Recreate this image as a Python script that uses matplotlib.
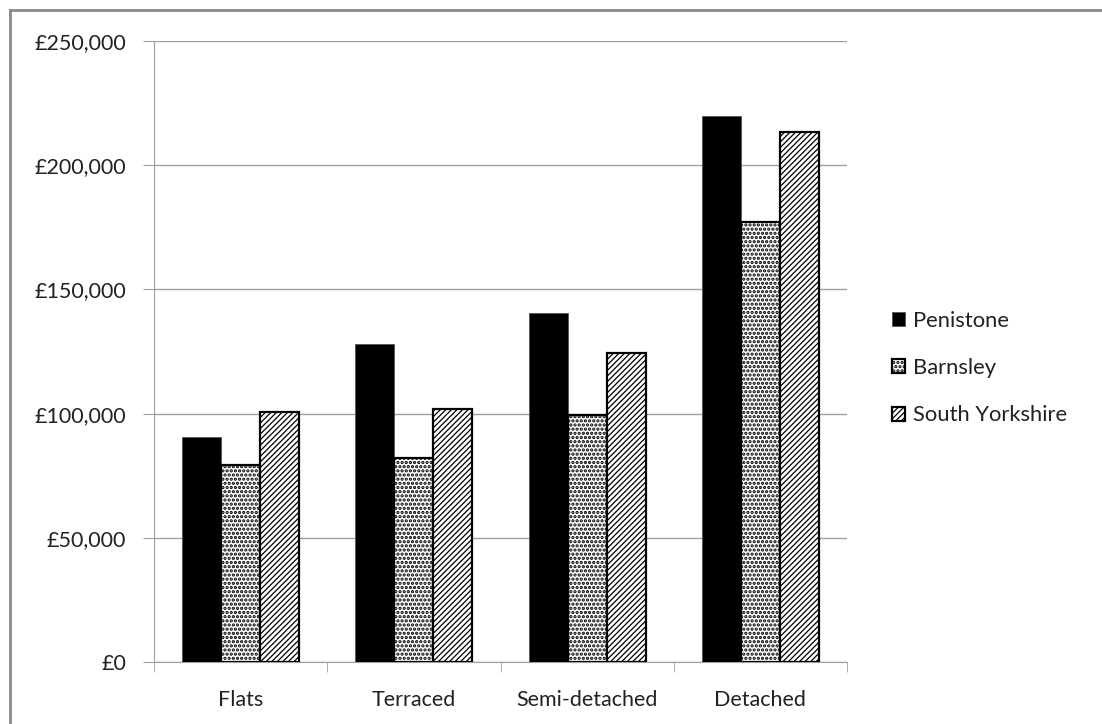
import matplotlib
matplotlib.use("Agg")
import matplotlib.pyplot as plt
import numpy as np
from matplotlib.ticker import FuncFormatter
from matplotlib.lines import Line2D

categories = ["Flats", "Terraced", "Semi-detached", "Detached"]
series_names = ["Penistone", "Barnsley", "South Yorkshire"]
penistone = [90700, 128000, 140500, 220000]
barnsley = [79500, 82000, 99500, 177000]
south_yorkshire = [100600, 102000, 124500, 213500]
y_ticks = [0, 50000, 100000, 150000, 200000, 250000]

plt.rcParams['font.family'] = ['Lato', 'DejaVu Sans']
plt.rcParams['hatch.linewidth'] = 0.9
plt.rcParams['text.color'] = '#222222'

fig = plt.figure(figsize=(11.02, 7.24), dpi=100)
ax = fig.add_axes([154/1102, 1-662/724, (847-154)/1102, (662-41)/724])

x = np.arange(len(categories))
w = 0.225
ax.bar(x - w, penistone, w, color='black', edgecolor='#555555', linewidth=0.6, label=series_names[0], zorder=3)
b2 = ax.bar(x, barnsley, w, color='white', edgecolor='black', hatch='....', linewidth=1.6, label=series_names[1], zorder=3)
ax.bar(x + w, south_yorkshire, w, color='white', edgecolor='black', hatch='//////', linewidth=1.6, label=series_names[2], zorder=3)
for p in b2:
    try:
        p.set_hatch_linewidth(1.6)
    except Exception:
        pass

ax.set_xlim(-0.5, len(categories) - 0.5)
ax.set_ylim(0, 250000)
ax.set_yticks(y_ticks)
ax.yaxis.set_major_formatter(FuncFormatter(lambda v, p: "£{:,.0f}".format(v)))
ax.set_xticks(x)
ax.set_xticklabels(categories)
ax.set_xticks(np.arange(len(categories) + 1) - 0.5, minor=True)

ax.grid(axis='y', color='#a0a0a0', linewidth=1.0, zorder=0)
for s in ['top', 'right']:
    ax.spines[s].set_visible(False)
ax.spines['left'].set_color('#a0a0a0')
ax.spines['bottom'].set_color('#a0a0a0')

ax.tick_params(axis='y', length=8, color='#a0a0a0', labelsize=15.5, pad=12, labelcolor='#222222')
ax.tick_params(axis='x', which='major', length=0, labelsize=15.5, pad=20, labelcolor='#222222')
ax.tick_params(axis='x', which='minor', length=7, color='#a0a0a0')

leg = ax.legend(loc='center left', frameon=False,
                fontsize=15.8, handlelength=0.6, handleheight=0.6, handletextpad=0.35,
                labelspacing=1.25)
leg.set_bbox_to_anchor((872/1102, 1-368/724), transform=fig.transFigure)
for h in leg.legend_handles:
    if h.get_hatch() == '....':
        try:
            h.set_hatch_linewidth(1.6)
        except Exception:
            pass

fig.add_artist(Line2D([10/1102, 10/1102], [0, 1-10/724], transform=fig.transFigure, color='#8a8a8a', linewidth=2))
fig.add_artist(Line2D([10/1102, 1], [1-10/724, 1-10/724], transform=fig.transFigure, color='#8a8a8a', linewidth=2))

fig.savefig("out.png", dpi=100)
